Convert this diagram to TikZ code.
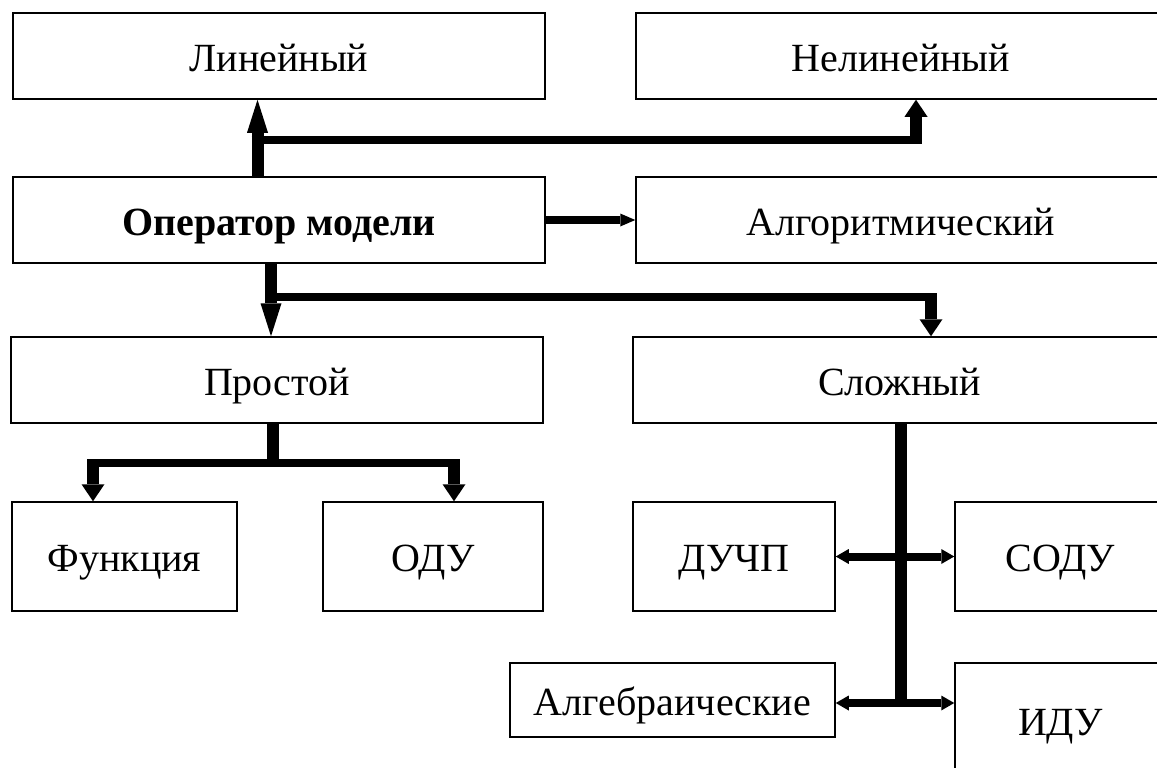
\documentclass[tikz,border=0pt]{standalone}
\usepackage{fontspec}
\setmainfont{Liberation Serif}
\usetikzlibrary{arrows.meta}
\tikzset{
  box/.style={draw, line width=1.5pt, inner sep=0pt, align=center,
    text height=38pt, text depth=8pt,
    font=\fontsize{40}{44}\selectfont},
  shaft/.style={line width=12pt},
  hbar/.style={line width=8pt},
  tipLong/.style={-{Triangle[length=33pt,width=21pt,line width=0pt]}},
  tipShort/.style={-{Triangle[length=17pt,width=23pt,line width=0pt]}},
  tipSmall/.style={{Triangle[length=13pt,width=15pt,line width=0pt]}-{Triangle[length=13pt,width=15pt,line width=0pt]}},
  tipRight/.style={-{Triangle[length=15pt,width=13pt,line width=0pt]}}
}
\begin{document}
\begin{tikzpicture}[x=1pt,y=-1pt]
\clip (0,0) rectangle (1157,768);
\fill[white] (0,0) rectangle (1157,768);
% nodes
\node[box, minimum width=532pt, minimum height=86pt] (lin) at (279,56) {Линейный};
\node[box, minimum width=530pt, minimum height=86pt] (nelin) at (901,56) {Нелинейный};
\node[box, minimum width=532pt, minimum height=86pt] (oper) at (279,220) {\bfseries Оператор модели};
\node[box, minimum width=530pt, minimum height=86pt] (alg) at (901,220) {Алгоритмический};
\node[box, minimum width=532pt, minimum height=86pt] (prost) at (277,380) {Простой};
\node[box, minimum width=533pt, minimum height=86pt] (slozh) at (899.5,380) {Сложный};
\node[box, minimum width=225pt, minimum height=109pt] (func) at (124.5,556.5) {Функция};
\node[box, minimum width=220pt, minimum height=109pt] (odu) at (433,556.5) {ОДУ};
\node[box, minimum width=202pt, minimum height=109pt] (duchp) at (734,556.5) {ДУЧП};
\node[box, minimum width=211pt, minimum height=109pt] (sodu) at (1060.5,556.5) {СОДУ};
\node[box, minimum width=325pt, minimum height=74pt] (algebr) at (672.5,700) {Алгебраические};
\node[box, minimum width=211pt, minimum height=114pt] (idu) at (1060.5,720) {ИДУ};
% junction points
\coordinate (xa) at (257.5,140);
\coordinate (xb) at (916,140);
\coordinate (xc) at (271,297);
\coordinate (xd) at (931,297);
\coordinate (xe) at (272.5,463);
\coordinate (xf) at (93,463);
\coordinate (xg) at (454,463);
\coordinate (xh) at (901,703);
% connectors
\draw[shaft, tipLong] (oper.north -| xa) -- (lin.south -| xa);
\draw[hbar] ([xshift=-6pt]xa) -- ([xshift=6pt]xb);
\draw[shaft, tipShort] (xb) -- (nelin.south -| xb);
\draw[hbar, tipRight] (oper.east) -- (alg.west);
\draw[shaft, tipLong] (oper.south -| xc) -- (prost.north -| xc);
\draw[hbar] (xc) -- ([xshift=6pt]xd);
\draw[shaft, tipShort] (xd) -- (slozh.north -| xd);
\draw[shaft] (prost.south -| xe) -- (xe);
\draw[hbar] ([xshift=-6pt]xf) -- ([xshift=6pt]xg);
\draw[shaft, tipShort] (xf) -- (func.north -| xf);
\draw[shaft, tipShort] (xg) -- (odu.north -| xg);
\draw[shaft] (slozh.south -| xh) -- ([yshift=-4pt]xh);
\draw[hbar, tipSmall] (duchp.east) -- (sodu.west);
\draw[hbar, tipSmall] (algebr.east |- xh) -- (idu.west |- xh);
\end{tikzpicture}
\end{document}
